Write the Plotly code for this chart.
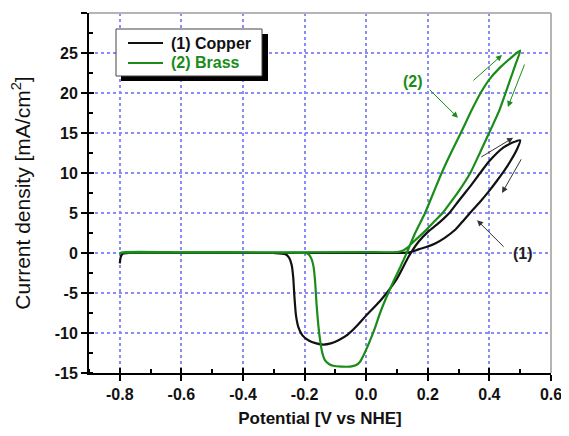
import plotly.graph_objects as go

# ---------------- data ----------------
copper_x = [-0.800, -0.798, -0.795, -0.790, -0.770, -0.600, -0.400, -0.300, -0.262, -0.250, -0.242,
            -0.237, -0.233, -0.228, -0.220, -0.207, -0.188, -0.162, -0.140, -0.115, -0.090, -0.060,
            -0.030, 0.000, 0.045, 0.100, 0.137, 0.170, 0.202, 0.237, 0.272, 0.300, 0.337, 0.370,
            0.400, 0.446, 0.475, 0.500,
            0.490, 0.467, 0.445, 0.424, 0.400, 0.370, 0.337, 0.310, 0.289, 0.255, 0.224, 0.195,
            0.170, 0.148, 0.130, 0.100, 0.000, -0.400, -0.790]
copper_y = [-1.3, -0.7, -0.3, -0.1, 0.0, 0.02, 0.02, 0.0, -0.15, -0.6, -1.5,
            -3.0, -5.5, -7.8, -9.3, -10.3, -10.9, -11.3, -11.45, -11.3, -10.9, -10.2,
            -9.1, -7.8, -6.0, -3.2, -0.5, 1.4, 2.7, 3.8, 5.1, 6.5, 8.3, 10.0,
            11.5, 13.2, 13.8, 14.1,
            13.0, 11.4, 10.1, 9.0, 7.8, 6.4, 5.0, 3.8, 2.9, 1.9, 1.2, 0.75,
            0.45, 0.15, 0.05, 0.02, 0.02, 0.0, 0.0]

brass_x = [-0.800, -0.795, -0.600, -0.300, -0.200, -0.186, -0.177, -0.171, -0.166, -0.161,
           -0.156, -0.150, -0.143, -0.134, -0.120, -0.107, -0.080, -0.052, -0.032, -0.020,
           -0.005, 0.013, 0.030, 0.045, 0.065, 0.088, 0.110, 0.128, 0.159, 0.191, 0.218,
           0.245, 0.275, 0.307, 0.343, 0.370, 0.400, 0.435, 0.470, 0.500,
           0.485, 0.465, 0.448, 0.433, 0.399, 0.370, 0.338, 0.300, 0.260, 0.250, 0.220,
           0.190, 0.159, 0.135, 0.116, 0.100, 0.000, -0.400, -0.795]
brass_y = [-0.2, 0.05, 0.08, 0.05, 0.0, -0.2, -0.8, -1.7, -3.5, -6.5,
           -8.8, -10.8, -12.4, -13.4, -13.9, -14.1, -14.2, -14.2, -14.0, -13.6,
           -12.5, -10.9, -9.2, -7.5, -5.6, -3.6, -1.8, -0.3, 2.5, 5.0, 7.5,
           10.0, 12.5, 15.0, 17.9, 19.9, 21.7, 23.2, 24.4, 25.3,
           23.6, 21.4, 19.5, 17.9, 15.0, 12.6, 10.0, 7.7, 5.6, 5.1, 3.9,
           2.7, 1.6, 0.7, 0.25, 0.12, 0.1, 0.08, 0.05]

legend_labels = ["(1) Copper", "(2) Brass"]
x_ticks = [-0.8, -0.6, -0.4, -0.2, 0.0, 0.2, 0.4, 0.6]
x_ticktext = ["-0.8", "-0.6", "-0.4", "-0.2", "0.0", "0.2", "0.4", "0.6"]
y_ticks = [-15, -10, -5, 0, 5, 10, 15, 20, 25, 30]
y_ticktext = ["-15", "-10", "-5", "0", "5", "10", "15", "20", "25", "30"]

BLACK = "#111111"
GREEN = "#1a8c1a"
FONT = "Liberation Sans, Arial, sans-serif"

fig = go.Figure()
fig.add_trace(go.Scatter(x=copper_x, y=copper_y, mode="lines", name=legend_labels[0],
                         line=dict(color=BLACK, width=2.2, shape="spline", smoothing=0.6),
                         showlegend=False))
fig.add_trace(go.Scatter(x=brass_x, y=brass_y, mode="lines", name=legend_labels[1],
                         line=dict(color=GREEN, width=2.2, shape="spline", smoothing=0.6),
                         showlegend=False))
# dummy trace for overlay axes (crossing ticks)
fig.add_trace(go.Scatter(x=[None], y=[None], xaxis="x2", yaxis="y2", showlegend=False,
                         hoverinfo="skip"))

# page has an 8px body margin -> figure is shifted by 8px
OFF = 8
PL, PT, PR, PB = 89, 13, 551, 373        # plot area in page pixels
W, H = 569 - OFF, 436 - OFF
L, T = PL - OFF, PT - OFF
R, B = W - (PR - OFF), H - (PB - OFF)
pw, ph = PR - PL, PB - PT


def px2paper(px, py):
    return (px - PL) / pw, (PB - py) / ph


grid = dict(showgrid=True, gridcolor="#8c8cf6", griddash="dot", gridwidth=1.5)
tickfont = dict(size=16, family=FONT, color="#111", weight="bold")

fig.update_layout(
    width=W, height=H, margin=dict(l=L, r=R, t=T, b=B, autoexpand=False),
    paper_bgcolor="white", plot_bgcolor="white",
    font=dict(family=FONT, color="#111111"),
    xaxis=dict(range=[-0.9, 0.6], tickvals=x_ticks, ticktext=x_ticktext, **grid,
               automargin=False,
               showline=True, linecolor="black", linewidth=2,
               ticks="outside", ticklen=6, tickwidth=2, tickcolor="black",
               minor=dict(ticks="inside", dtick=0.1, tick0=-0.9, ticklen=4, tickwidth=1.5,
                          tickcolor="black", showgrid=False),
               tickfont=tickfont,
               title=dict(text="<b>Potential [V vs NHE]</b>", font=dict(size=17, family=FONT),
                          standoff=10),
               zeroline=False),
    yaxis=dict(range=[-15, 30], tickvals=y_ticks, ticktext=y_ticktext, **grid,
               automargin=False,
               showline=True, linecolor="black", linewidth=2,
               ticks="outside", ticklen=6, tickwidth=2, tickcolor="black",
               minor=dict(ticks="inside", dtick=2.5, tick0=-15, ticklen=4, tickwidth=1.5,
                          tickcolor="black", showgrid=False),
               tickfont=tickfont,
               title=dict(text="Current density [mA/cm<sup>2</sup>]", font=dict(size=21, family=FONT),
                          standoff=21),
               zeroline=False),
    xaxis2=dict(range=[-0.9, 0.6], overlaying="x", anchor="y", side="bottom", automargin=False,
                tickvals=x_ticks, ticks="inside", ticklen=5, tickwidth=2, tickcolor="black",
                showticklabels=False, showgrid=False, showline=False, zeroline=False),
    yaxis2=dict(range=[-15, 30], overlaying="y", anchor="x", side="left", automargin=False,
                tickvals=y_ticks, ticks="inside", ticklen=5, tickwidth=2, tickcolor="black",
                showticklabels=False, showgrid=False, showline=False, zeroline=False),
)

shapes = []
# top / right gray frame
shapes.append(dict(type="line", xref="paper", yref="paper", x0=0, x1=1, y0=1, y1=1,
                   line=dict(color="#b4b4b4", width=2), layer="above"))
shapes.append(dict(type="line", xref="paper", yref="paper", x0=1, x1=1, y0=0, y1=1,
                   line=dict(color="#b4b4b4", width=2), layer="above"))

# legend box with shadow
sx0, sy0 = px2paper(121, 34)
sx1, sy1 = px2paper(268, 81)
shapes.append(dict(type="rect", xref="paper", yref="paper", x0=sx0, x1=sx1, y0=sy1, y1=sy0,
                   fillcolor="black", line=dict(width=0), layer="above"))
bx0, by0 = px2paper(116, 29)
bx1, by1 = px2paper(262, 76)
shapes.append(dict(type="rect", xref="paper", yref="paper", x0=bx0, x1=bx1, y0=by1, y1=by0,
                   fillcolor="white", line=dict(color="#444", width=1), layer="above"))
for ypx, col in [(43, BLACK), (63, GREEN)]:
    lx0, ly = px2paper(128, ypx)
    lx1, _ = px2paper(163, ypx)
    shapes.append(dict(type="line", xref="paper", yref="paper", x0=lx0, x1=lx1, y0=ly, y1=ly,
                       line=dict(color=col, width=2), layer="above"))
fig.update_layout(shapes=shapes)

ann = []
for ypx, col, lab in [(43, BLACK, legend_labels[0]), (63, GREEN, legend_labels[1])]:
    tx, ty = px2paper(169, ypx)
    ann.append(dict(x=tx, y=ty, xref="paper", yref="paper", text="<b>" + lab + "</b>",
                    showarrow=False, xanchor="left", yanchor="middle",
                    font=dict(size=16, color=col, family=FONT)))

# labels (1), (2)
ann.append(dict(x=0.152, y=21.4, text="<b>(2)</b>", showarrow=False,
                font=dict(size=16, color=GREEN, family=FONT)))
ann.append(dict(x=0.51, y=0.0, text="<b>(1)</b>", showarrow=False,
                font=dict(size=16, color="#222", family=FONT)))

arrows = [
    # (tail_x, tail_y, head_x, head_y, color)
    (0.201, 20.6, 0.298, 16.9, GREEN),
    (0.451, 0.6, 0.360, 4.1, "#333333"),
    (0.343, 21.4, 0.441, 24.75, GREEN),
    (0.516, 23.75, 0.460, 18.25, GREEN),
    (0.369, 11.9, 0.477, 14.4, "#333333"),
    (0.506, 11.9, 0.441, 7.5, "#333333"),
]
for tx, ty, hx, hy, col in arrows:
    ann.append(dict(x=hx, y=hy, ax=tx, ay=ty, xref="x", yref="y", axref="x", ayref="y",
                    text="", showarrow=True, arrowhead=2, arrowsize=1.2, arrowwidth=1,
                    arrowcolor=col))
fig.update_layout(annotations=ann)

fig.write_html("out.html")
